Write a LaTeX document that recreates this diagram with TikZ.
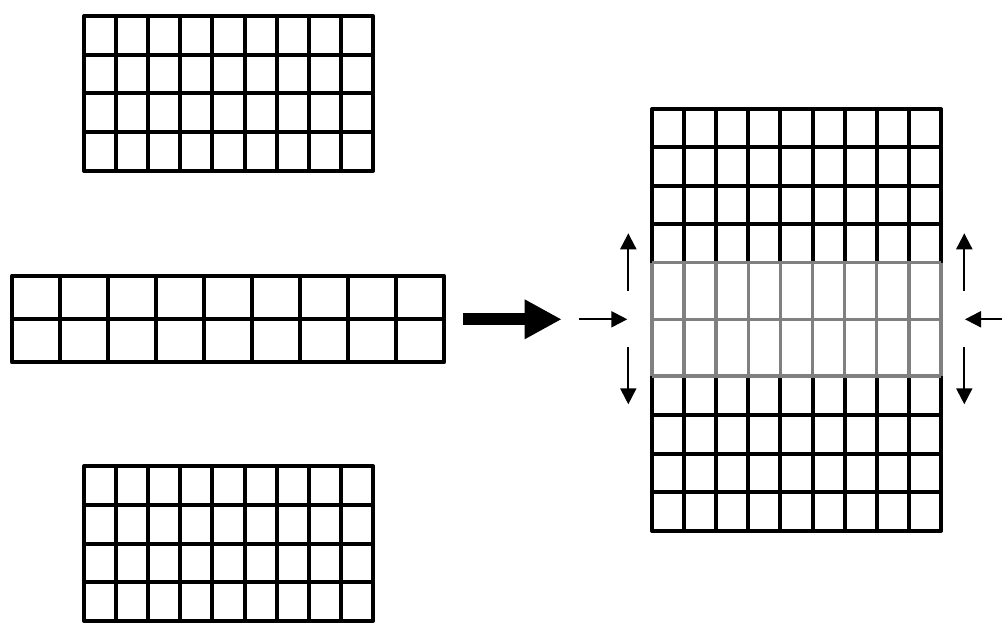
\documentclass[tikz,border=0pt]{standalone}
\usetikzlibrary{arrows.meta,calc}
\definecolor{BandGray}{RGB}{128,128,128}
\tikzset{
	gline/.style={draw=black,line width=4pt},
	frame/.style={draw=black,line width=4pt,line join=round},
	bandline/.style={draw=BandGray,line width=3.5pt},
	push/.style={draw=black,line width=2pt,-{Triangle[length=16pt,width=16pt]}},
	fat/.style={draw=black,line width=12pt,-{Triangle[length=37pt,width=37pt]}},
}
\begin{document}
\begin{tikzpicture}[x=1pt,y=-1pt]
	\useasboundingbox (0,0) rectangle (1002,636);
	% three input blocks
	\coordinate (up) at (84,16);
	\coordinate (mid) at (12,275.7);
	\coordinate (low) at (84,466);
	\foreach \blk in {up,low}{
		\begin{scope}[shift={(\blk)}]
			\foreach \i in {1,...,8}
			\draw[gline] ({32.1*\i},0) -- ({32.1*\i},155);
			\foreach \j in {1,...,3}
			\draw[gline] (0,{38.75*\j}) -- (289,{38.75*\j});
			\draw[frame] (0,0) rectangle (289,155);
		\end{scope}
	}
	\begin{scope}[shift={(mid)}]
		\foreach \i in {1,...,8}
		\draw[gline] ({48*\i},0) -- ({48*\i},86.6);
		\draw[gline] (0,43.3) -- (432,43.3);
		\draw[frame] (0,0) rectangle (432,86.6);
	\end{scope}
	% merged block
	\coordinate (out) at (652,109);
	\begin{scope}[shift={(out)}]
		\foreach \i in {1,...,8}{
			\draw[gline] ({32.1*\i},0) -- ({32.1*\i},153.7);
			\draw[gline] ({32.1*\i},267) -- ({32.1*\i},422);
		}
		\foreach \j in {1,...,3}{
			\draw[gline] (0,{38.4*\j}) -- (289,{38.4*\j});
			\draw[gline] (0,{267+38.75*\j}) -- (289,{267+38.75*\j});
		}
		\draw[frame] (0,153.7) -- (0,0) -- (289,0) -- (289,153.7);
		\draw[frame] (0,267) -- (0,422) -- (289,422) -- (289,267);
		% overlap band
		\foreach \i in {0,...,9}
		\draw[bandline] ({32.1*\i},153.7) -- ({32.1*\i},267);
		\foreach \y in {153.7,210.3,267}
		\draw[bandline] (0,\y) -- (289,\y);
	\end{scope}
	% arrows
	\coordinate (fatS) at (463.3,319.3);
	\coordinate (fatE) at (561.7,319.3);
	\draw[fat] (fatS) -- (fatE);
	\coordinate (inL) at (579.3,319.3);
	\coordinate (inLE) at (627.3,319.3);
	\coordinate (inR) at (1002,319.3);
	\coordinate (inRE) at (965,319.3);
	\draw[push] (inL) -- (inLE);
	\draw[push] (inR) -- (inRE);
	\foreach \x/\s in {628.3/l,964.3/r}{
		\coordinate (a\s) at (\x,290.7);
		\coordinate (b\s) at (\x,233.3);
		\coordinate (c\s) at (\x,347.3);
		\coordinate (d\s) at (\x,404.3);
		\draw[push] (a\s) -- (b\s);
		\draw[push] (c\s) -- (d\s);
	}
\end{tikzpicture}
\end{document}
